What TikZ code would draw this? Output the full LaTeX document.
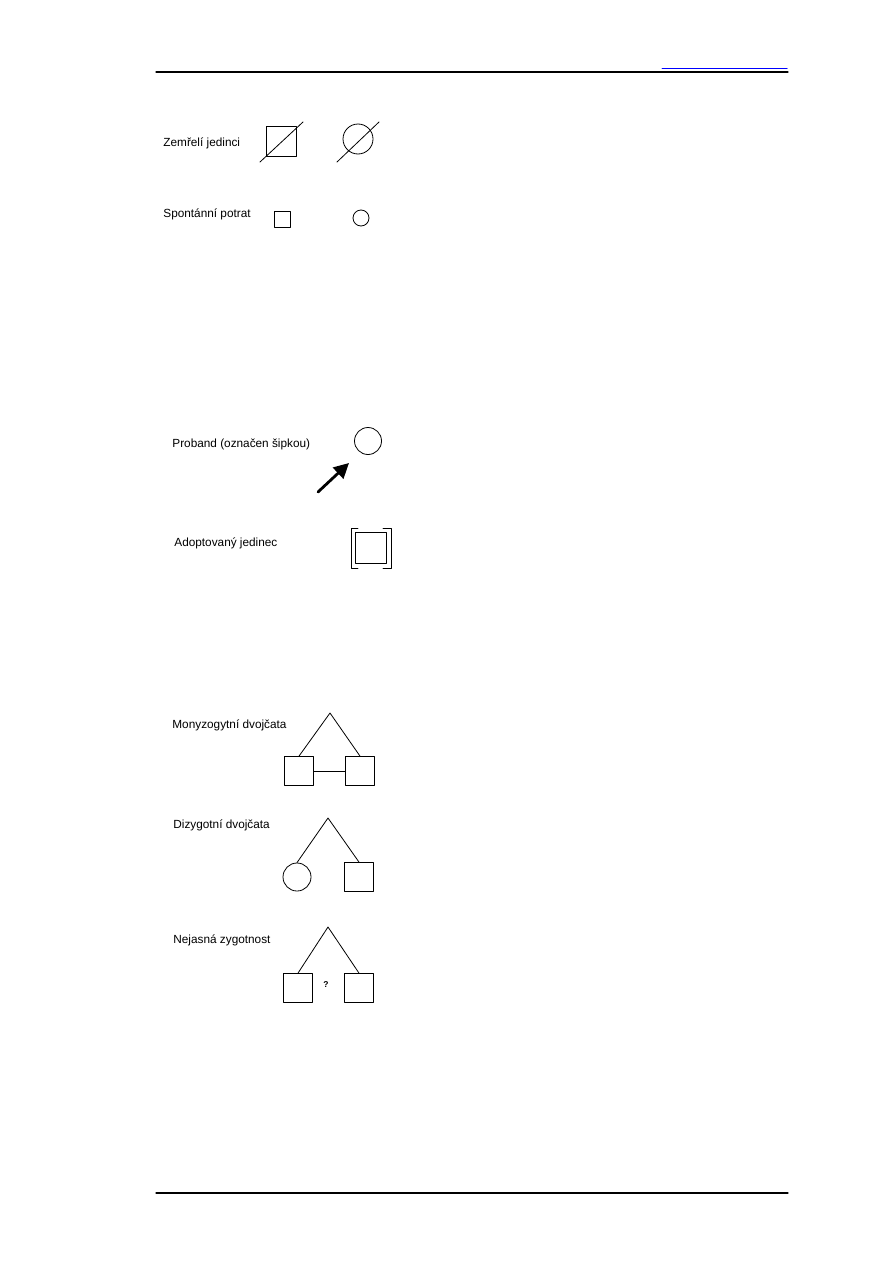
\documentclass[tikz,border=0pt]{standalone}
\usepackage{fontspec}
\setmainfont{Liberation Sans}
\usetikzlibrary{arrows.meta}
\begin{document}
\begin{tikzpicture}[x=1pt, y=-1pt, line join=round, line cap=round, line width=0.8pt,
	font=\fontsize{11.8}{13}\selectfont,
	lbl/.style={anchor=base west, inner sep=0pt},
	sq/.style={draw, minimum size=29pt, inner sep=0pt},
	ci/.style={draw, circle, minimum size=#1, inner sep=0pt},
	ci/.default=28pt]
	\useasboundingbox (0,0) rectangle (893,1263);
	% page rules
	\coordinate (TL) at (156,72);
	\coordinate (TR) at (788,72);
	\coordinate (BL) at (156,1193);
	\coordinate (BR) at (788,1193);
	\coordinate (HL) at (662,69);
	\coordinate (HR) at (787,69);
	\draw[line width=1.2pt] (TL)--(TR) (BL)--(BR);
	\draw[blue, line width=1pt] (HL)--(HR);
	% deceased
	\node[lbl] (tDead) at (163,146) {Zemřelí jedinci};
	\node[sq, minimum size=30pt] (dSq) at (281,141) {};
	\node[ci=30pt] (dCi) at (358,139) {};
	\coordinate (dSqA) at (260,162);
	\coordinate (dSqB) at (303,122);
	\coordinate (dCiA) at (337,162);
	\coordinate (dCiB) at (379,122);
	\draw (dSqA)--(dSqB) (dCiA)--(dCiB);
	% miscarriage
	\node[lbl] (tMisc) at (163,217) {Spontánní potrat};
	\node[sq, minimum size=16pt] (mSq) at (282,219) {};
	\node[ci=16pt] (mCi) at (361,218) {};
	% proband
	\node[lbl] (tProb) at (172,447) {Proband (označen šipkou)};
	\node[ci=27pt] (pCi) at (368,441) {};
	\coordinate (pA) at (318,492);
	\coordinate (pB) at (349,463);
	\draw[line width=2.8pt, -{Triangle[length=15pt, width=15pt]}] (pA)--(pB);
	% adopted
	\node[lbl] (tAdop) at (174,546) {Adoptovaný jedinec};
	\node[sq, minimum size=31pt] (aSq) at (371,548) {};
	\draw ([shift={(-13,-20)}]aSq.center) -- ++(-7,0) -- ++(0,40) -- ++(7,0);
	\draw ([shift={(12,-20)}]aSq.center) -- ++(8,0) -- ++(0,40) -- ++(-8,0);
	% monozygotic twins
	\node[lbl] (tMono) at (172,728) {Monyzogytní dvojčata};
	\coordinate (mTop) at (330,713);
	\node[sq] (mL) at (299,771) {};
	\node[sq] (mR) at (360,771) {};
	\draw (mL.north)--(mTop)--(mR.north);
	\draw (mL)--(mR);
	% dizygotic twins
	\node[lbl] (tDizy) at (173,828) {Dizygotní dvojčata};
	\coordinate (zTop) at (328,818);
	\node[ci] (zL) at (297,877) {};
	\node[sq] (zR) at (359,877) {};
	\draw (zL.north)--(zTop)--(zR.north);
	% unknown zygosity
	\node[lbl] (tUnkn) at (173,943) {Nejasná zygotnost};
	\coordinate (uTop) at (328,927);
	\node[sq] (uL) at (298,988) {};
	\node[sq] (uR) at (359,988) {};
	\draw (uL.north)--(uTop)--(uR.north);
	\node[font=\bfseries\fontsize{8.5}{10}\selectfont, inner sep=0pt] (uQ) at (326,985) {?};
\end{tikzpicture}
\end{document}
